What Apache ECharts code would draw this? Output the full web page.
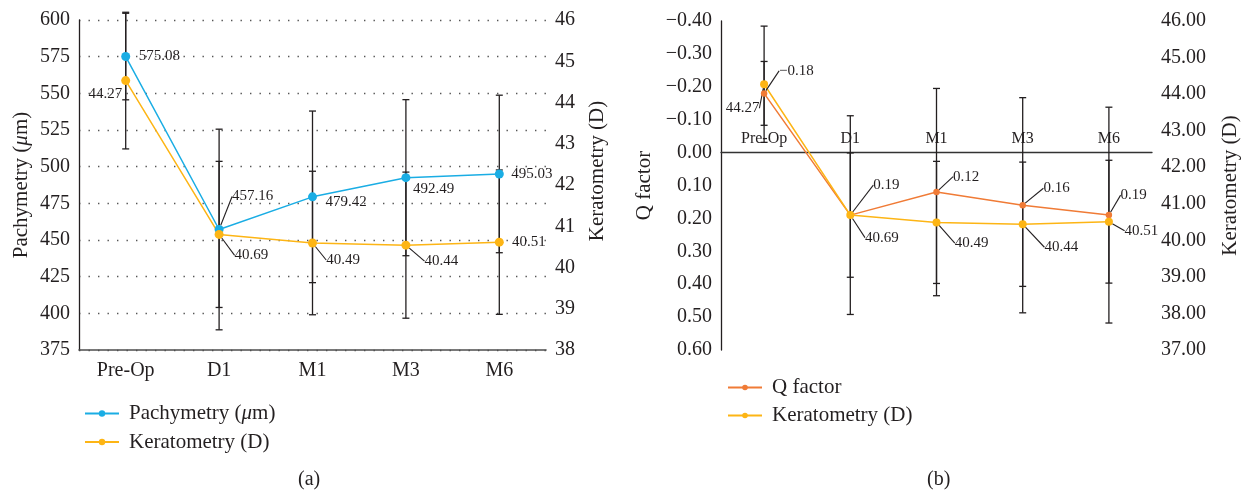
<!DOCTYPE html>
<html>
<head>
<meta charset="utf-8">
<script src="https://cdn.jsdelivr.net/npm/echarts@6/dist/echarts.min.js"></script>
<style>
  html, body { margin: 0; padding: 0; background: #fff; }
  #chart { width: 1248px; height: 490px; }
</style>
</head>
<body>
<div id="chart"></div>
<script>
// ---------- data ----------
const categories = ['Pre-Op', 'D1', 'M1', 'M3', 'M6'];
const pachymetry = [575.08, 457.16, 479.42, 492.49, 495.03];
const pachymetrySD = [29.5, 68.4, 58.5, 53.2, 53.7];
const keratometry = [44.27, 40.69, 40.49, 40.44, 40.51];
const keratometrySD = [1.59, 1.70, 1.67, 1.70, 1.68];
const qFactor = [-0.18, 0.19, 0.12, 0.16, 0.19];
const qFactorSD = [0.097, 0.302, 0.315, 0.327, 0.328];

const pachyAxis = { min: 375, max: 600, interval: 25 };
const keratAxisA = { min: 38, max: 46, interval: 1 };
const keratPlotA = { min: 38, max: 45.68 };   // scale the keratometry line is actually drawn on in panel (a)
const qAxis = { min: -0.4, max: 0.6, interval: 0.1 };
const keratAxisB = { min: 37, max: 46, interval: 1 };

const names = {
  pachy: 'Pachymetry (μm)',
  keratA: 'Keratometry (D)',
  q: 'Q factor',
  keratB: 'Keratometry (D) '
};

// ---------- layout ----------
const gridA = { left: 79, top: 20, width: 467, height: 330 };
const gridB = { left: 721, top: 21, width: 431, height: 329 };
// the category axis of panel (b) sits on Q = 0
const zeroOffsetB = -gridB.height * (0 - qAxis.min) / (qAxis.max - qAxis.min);

const pachyLabelPos = [[13, 0, 0], [13, -33, 1], [13, 5, 0], [7, 11, 0], [12, 0, 0]];
const keratLabelPosA = [[-3.5, 13, 0], [15.5, 21, 1], [13.7, 17, 1], [18.6, 16, 1], [12.7, 0, 0]];
const qLabelPos = [[15, -22.5, 1], [23, -30, 1], [16.6, -15.5, 1], [20.7, -17, 1], [11.7, -20, 1]];
const keratLabelPosB = [[-4.7, 24, 1], [14.7, 22.5, 1], [18.3, 20.7, 1], [21.7, 23, 1], [15.7, 9, 1]];

const FONT = '"Liberation Serif", "Times New Roman", serif';
const INK = '#231f20';
const C_BLUE = '#1aade4';
const C_GOLD = '#fdb515';
const C_ORANGE = '#f07b36';

function fmt2(v) {
  return (v < 0 ? '\u2212' : '') + Math.abs(v).toFixed(2);
}

function makeLayout(pos) {
  return function (p) {
    const o = pos[p.dataIndex];
    const cx = p.rect.x + p.rect.width / 2;
    const cy = p.rect.y + p.rect.height / 2;
    const lx = cx + o[0], ly = cy + o[1];
    const right = o[0] < 0;
    const res = { x: lx, y: ly, align: right ? 'right' : 'left', verticalAlign: 'middle' };
    if (o[2]) {
      const s = o[1] < 0 ? -1 : 1;
      res.labelLinePoints = right
        ? [[cx - 1, cy + 3], [lx - 9, ly - 9]]
        : [[cx + 0.5, cy + 3 * s], [lx - 11, ly], [lx - 5, ly]];
    }
    return res;
  };
}

function lineData(values, pos) {
  return values.map(function (v, i) {
    return { value: v, labelLine: { show: !!pos[i][2] } };
  });
}

function errRender(sd) {
  return function (params, api) {
    const i = api.value(0), v = api.value(1), s = sd[params.dataIndex];
    const t = api.coord([i, v + s]);
    const b = api.coord([i, v - s]);
    const w = 3.5;
    const st = { stroke: INK, lineWidth: 1.3 };
    return {
      type: 'group',
      children: [
        { type: 'line', shape: { x1: t[0], y1: t[1], x2: b[0], y2: b[1] }, style: st },
        { type: 'line', shape: { x1: t[0] - w, y1: t[1], x2: t[0] + w, y2: t[1] }, style: st },
        { type: 'line', shape: { x1: b[0] - w, y1: b[1], x2: b[0] + w, y2: b[1] }, style: st }
      ]
    };
  };
}

function errSeries(values, sd, xi, yi) {
  return {
    type: 'custom',
    name: 'err' + xi + '_' + yi,
    xAxisIndex: xi,
    yAxisIndex: yi,
    data: values.map(function (v, i) { return [i, v]; }),
    encode: { x: 0, y: 1 },
    renderItem: errRender(sd),
    z: 1,
    silent: true
  };
}

function lineSeries(name, values, pos, color, size, xi, yi) {
  return {
    type: 'line',
    name: name,
    xAxisIndex: xi,
    yAxisIndex: yi,
    data: lineData(values, pos),
    symbol: 'circle',
    symbolSize: size,
    color: color,
    lineStyle: { color: color, width: 1.5 },
    itemStyle: { color: color },
    z: 3,
    animation: false,
    label: {
      show: true,
      formatter: function (p) { return fmt2(p.value); },
      fontFamily: FONT,
      fontSize: 15,
      color: INK
    },
    labelLine: { show: true, lineStyle: { color: INK, width: 1.1 } },
    labelLayout: makeLayout(pos)
  };
}

const textBase = { fontFamily: FONT, color: INK };
const richMu = { i: { fontStyle: 'italic', fontFamily: FONT, fontSize: 21, color: INK } };

const chart = echarts.init(document.getElementById('chart'), null, { renderer: 'canvas' });

const option = {
  animation: false,
  backgroundColor: '#fff',
  textStyle: { fontFamily: FONT },
  grid: [gridA, gridB],
  xAxis: [
    {
      gridIndex: 0, type: 'category', data: categories, boundaryGap: true,
      axisLine: { onZero: false, lineStyle: { color: '#4d4d4d', width: 1.6 } },
      axisTick: { show: false },
      axisLabel: Object.assign({ fontSize: 20, margin: 11 }, textBase),
      splitLine: { show: false }
    },
    {
      gridIndex: 1, type: 'category', data: categories, boundaryGap: true, position: 'top',
      offset: zeroOffsetB,
      axisLine: { onZero: false, lineStyle: { color: '#333', width: 1.3 } },
      axisTick: { show: false },
      axisLabel: Object.assign({ fontSize: 16, margin: 6 }, textBase),
      splitLine: { show: false }
    }
  ],
  yAxis: [
    {
      gridIndex: 0, type: 'value', position: 'left',
      min: pachyAxis.min, max: pachyAxis.max, interval: pachyAxis.interval,
      axisLine: { show: true, lineStyle: { color: INK, width: 1.3 } },
      axisTick: { show: false },
      axisLabel: Object.assign({ fontSize: 20, margin: 9 }, textBase),
      splitLine: { show: true, lineStyle: { color: '#555', width: 1.4, type: [1.4, 8.1] } },
      name: 'Pachymetry ({i|μ}m)', nameLocation: 'middle', nameGap: 47,
      nameTextStyle: Object.assign({ fontSize: 21, rich: richMu }, textBase)
    },
    {
      gridIndex: 0, type: 'value', position: 'right',
      min: keratAxisA.min, max: keratAxisA.max, interval: keratAxisA.interval,
      axisLine: { show: false }, axisTick: { show: false },
      axisLabel: Object.assign({ fontSize: 20, margin: 9 }, textBase),
      splitLine: { show: false },
      name: 'Keratometry (D)', nameLocation: 'middle', nameGap: 41,
      nameTextStyle: Object.assign({ fontSize: 21, padding: [0, 0, 0, 28] }, textBase)
    },
    {
      gridIndex: 0, type: 'value', position: 'right', show: false,
      min: keratPlotA.min, max: keratPlotA.max, splitLine: { show: false }
    },
    {
      gridIndex: 1, type: 'value', position: 'left', inverse: true,
      min: qAxis.min, max: qAxis.max, interval: qAxis.interval,
      axisLine: { show: true, lineStyle: { color: INK, width: 1.3 } },
      axisTick: { show: false },
      axisLabel: Object.assign({ fontSize: 20, margin: 9, formatter: fmt2 }, textBase),
      splitLine: { show: false },
      name: 'Q factor', nameLocation: 'middle', nameGap: 66,
      nameTextStyle: Object.assign({ fontSize: 21 }, textBase)
    },
    {
      gridIndex: 1, type: 'value', position: 'right',
      min: keratAxisB.min, max: keratAxisB.max, interval: keratAxisB.interval,
      axisLine: { show: false }, axisTick: { show: false },
      axisLabel: Object.assign({ fontSize: 20, margin: 9, formatter: function (v) { return v.toFixed(2); } }, textBase),
      splitLine: { show: false },
      name: 'Keratometry (D)', nameLocation: 'middle', nameGap: 68,
      nameTextStyle: Object.assign({ fontSize: 21 }, textBase)
    }
  ],
  legend: [
    {
      data: [names.pachy, names.keratA],
      orient: 'vertical', left: 79, top: 398,
      itemWidth: 34, itemHeight: 8, itemGap: 7.5,
      formatter: function (n) { return n.replace('μ', '{i|μ}'); },
      textStyle: Object.assign({ fontSize: 21, lineHeight: 20, rich: richMu, padding: [0, 0, 0, 5] }, textBase)
    },
    {
      data: [names.q, names.keratB],
      orient: 'vertical', left: 722, top: 372,
      itemWidth: 34, itemHeight: 7, itemGap: 7,
      textStyle: Object.assign({ fontSize: 21, lineHeight: 20, padding: [0, 0, 0, 5] }, textBase)
    }
  ],
  graphic: [
    { type: 'text', left: 298, top: 470, style: { text: '(a)', font: '20px ' + FONT, fill: INK } },
    { type: 'text', left: 927, top: 470, style: { text: '(b)', font: '20px ' + FONT, fill: INK } }
  ],
  series: [
    errSeries(pachymetry, pachymetrySD, 0, 0),
    errSeries(keratometry, keratometrySD, 0, 2),
    lineSeries(names.pachy, pachymetry, pachyLabelPos, C_BLUE, 9, 0, 0),
    lineSeries(names.keratA, keratometry, keratLabelPosA, C_GOLD, 9, 0, 2),
    errSeries(qFactor, qFactorSD, 1, 3),
    errSeries(keratometry, keratometrySD, 1, 4),
    lineSeries(names.q, qFactor, qLabelPos, C_ORANGE, 6.5, 1, 3),
    lineSeries(names.keratB, keratometry, keratLabelPosB, C_GOLD, 8, 1, 4)
  ]
};

chart.setOption(option);
</script>
</body>
</html>
